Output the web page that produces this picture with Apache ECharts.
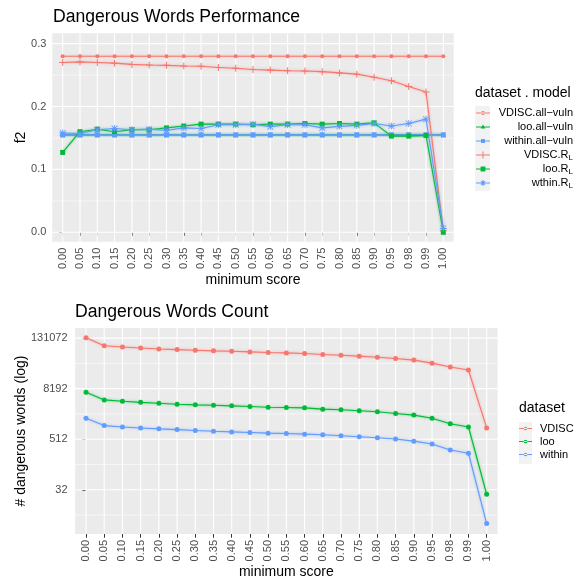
<!DOCTYPE html>
<html><head><meta charset="utf-8">
<script src="https://cdn.jsdelivr.net/npm/echarts@6/dist/echarts.min.js"></script>
<style>html,body{margin:0;padding:0;background:#fff}#c{width:576px;height:580px}</style>
</head><body><div id="c"></div>
<script>
const categories = ['0.00','0.05','0.10','0.15','0.20','0.25','0.30','0.35','0.40','0.45','0.50','0.55','0.60','0.65','0.70','0.75','0.80','0.85','0.90','0.95','0.98','0.99','1.00'];
const f2Ticks = [0, 0.1, 0.2, 0.3];
const f2MinorTicks = [0.05, 0.15, 0.25];
const countTicks = [32, 512, 8192, 131072];
const countMinorTicks = [8, 128, 2048, 32768];

// Top chart: f2
const f2VdiscAllVuln = [0.28,0.28,0.28,0.28,0.28,0.28,0.28,0.28,0.28,0.28,0.28,0.28,0.28,0.28,0.28,0.28,0.28,0.28,0.28,0.28,0.28,0.28,0.28];
const f2LooAllVuln = [0.155,0.155,0.155,0.155,0.155,0.155,0.155,0.155,0.155,0.155,0.155,0.155,0.155,0.155,0.155,0.155,0.155,0.155,0.155,0.155,0.155,0.155,0.155];
const f2WithinAllVuln = [0.155,0.155,0.155,0.155,0.155,0.155,0.155,0.155,0.155,0.155,0.155,0.155,0.155,0.155,0.155,0.155,0.155,0.155,0.155,0.155,0.155,0.155,0.155];
const f2VdiscRL = [0.270,0.271,0.270,0.269,0.267,0.266,0.2655,0.2645,0.264,0.262,0.261,0.259,0.258,0.257,0.2565,0.2555,0.2535,0.2515,0.2465,0.241,0.232,0.223,0.003];
const f2LooRL = [0.127,0.160,0.164,0.160,0.163,0.163,0.166,0.169,0.172,0.172,0.172,0.171,0.172,0.172,0.173,0.172,0.173,0.172,0.174,0.153,0.153,0.154,0.0];
const f2WithinRL = [0.158,0.157,0.163,0.165,0.163,0.164,0.162,0.166,0.165,0.171,0.171,0.172,0.168,0.171,0.171,0.166,0.1685,0.170,0.173,0.169,0.173,0.180,0.006];

// Bottom chart: counts
const countVdisc = [133900,86500,80700,76300,72200,69800,67400,65100,63800,61600,59300,58300,56300,53200,51400,48700,46000,42900,39200,33200,26800,22800,950];
const countLoo = [6700,4420,4100,3870,3690,3490,3370,3300,3190,3080,2960,2920,2860,2660,2570,2440,2300,2100,1920,1610,1200,1000,25];
const countWithin = [1610,1080,1000,950,904,867,826,792,765,739,714,699,676,652,617,584,553,516,461,393,284,237,5];

const RED = '#F8766D', GREEN = '#00BA38', BLUE = '#619CFF';
const FONT = 'Liberation Sans, Arial, sans-serif';
const tickIdx = categories.map((c, i) => i);
const pts = arr => arr.map((v, i) => [i, v]);

const SYM_PLUS = 'path://M4.3,0H5.7V10H4.3Z M0,4.3H10V5.7H0Z';
const SYM_AST = 'path://M4.4,0H5.6V10H4.4Z M0,4.4H10V5.6H0Z M1.2,0.4L9.6,8.8L8.8,9.6L0.4,1.2Z M8.8,0.4L9.6,1.2L1.2,9.6L0.4,8.8Z';

const LBOX = 'M7,0L7,0Z M7,14L7,14Z M0,6.5H14V7.5H0Z ';
const icons = {
  circle: 'path://' + LBOX + 'M5,7A2,2 0 1,0 9,7A2,2 0 1,0 5,7Z',
  tri: 'path://' + LBOX + 'M7,4.6L9.3,8.6L4.7,8.6Z',
  rect: 'path://' + LBOX + 'M5,5H9V9H5Z',
  plus: 'path://' + LBOX + 'M6.5,3.5H7.5V10.5H6.5Z M3.5,6.5H10.5V7.5H3.5Z',
  sq: 'path://' + LBOX + 'M4.6,4.6H9.4V9.4H4.6Z',
  ast: 'path://' + LBOX + 'M6.5,4H7.5V10H6.5Z M4,6.5H10V7.5H4Z M4.7,5.4L5.4,4.7L9.3,8.6L8.6,9.3Z M8.6,4.7L9.3,5.4L5.4,9.3L4.7,8.6Z'
};

const axisLabelStyle = {color: '#4d4d4d', fontSize: 11, fontFamily: FONT};
const nameStyle = {color: '#000', fontSize: 14, fontFamily: FONT};

function xAxis(gi) {
  return {
    type: 'value', gridIndex: gi, min: -0.6, max: 22.6,
    axisLine: {show: false},
    axisTick: {show: true, customValues: tickIdx, length: 3.7, lineStyle: {color: '#333', width: 1}},
    axisLabel: Object.assign({customValues: tickIdx, formatter: v => categories[Math.round(v)], rotate: 90, margin: 6}, axisLabelStyle),
    splitLine: {show: false},
    name: 'minimum score', nameLocation: 'middle', nameGap: 31, nameMoveOverlap: false, nameTextStyle: nameStyle
  };
}

function line(name, data, color, symbol, size, xi, yi) {
  return {
    type: 'line', name: name, xAxisIndex: xi, yAxisIndex: yi, data: pts(data),
    symbol: symbol, symbolSize: size, showSymbol: true, clip: false, z: 3,
    itemStyle: {color: color},
    lineStyle: {color: color, width: 1.1, shadowColor: color + 'aa', shadowBlur: 2.5},
    emphasis: {disabled: true}, animation: false
  };
}

// panel gridlines, positioned through the axes' own scales
function gridLines(xi, yi, yMajor, yMinor, yAnchor) {
  const data = [];
  yMinor.forEach(v => data.push([0, v, 0]));
  yMajor.forEach(v => data.push([0, v, 1]));
  tickIdx.forEach(v => data.push([v, yAnchor, 2]));
  return {
    type: 'custom', xAxisIndex: xi, yAxisIndex: yi, z: 1, silent: true, clip: false, animation: false,
    data: data, encode: {x: 0, y: 1},
    renderItem: function (params, api) {
      const cs = params.coordSys;
      const kind = api.value(2);
      const p = api.coord([api.value(0), api.value(1)]);
      let shape;
      if (kind === 2) shape = {x1: p[0], y1: cs.y, x2: p[0], y2: cs.y + cs.height};
      else shape = {x1: cs.x, y1: p[1], x2: cs.x + cs.width, y2: p[1]};
      return {type: 'line', shape: shape, style: {stroke: '#fff', lineWidth: kind === 0 ? 0.55 : 1.1}};
    }
  };
}

const topNames = ['VDISC.all-vuln', 'loo.all-vuln', 'within.all-vuln', 'VDISC.R_L', 'loo.R_L', 'wthin.R_L'];

const option = {
  animation: false,
  backgroundColor: '#fff',
  title: [
    {text: 'Dangerous Words Performance', left: 53, top: 8, padding: 0, textStyle: {fontSize: 17.6, fontWeight: 'normal', color: '#000', fontFamily: FONT}},
    {text: 'Dangerous Words Count', left: 75, top: 303, padding: 0, textStyle: {fontSize: 17.6, fontWeight: 'normal', color: '#000', fontFamily: FONT}},
    {text: 'dataset . model', left: 475, top: 86, padding: 0, textStyle: {fontSize: 14, fontWeight: 'normal', color: '#000', fontFamily: FONT}},
    {text: 'dataset', left: 519, top: 401, padding: 0, textStyle: {fontSize: 14, fontWeight: 'normal', color: '#000', fontFamily: FONT}}
  ],
  graphic: [
    {type: 'rect', z: -1, shape: {x: 475, y: 106, width: 15, height: 85}, style: {fill: '#f2f2f2'}},
    {type: 'rect', z: -1, shape: {x: 519, y: 422, width: 13, height: 42}, style: {fill: '#f2f2f2'}}
  ],
  grid: [
    {left: 52.3, top: 33.3, width: 401.4, height: 208.4, show: true, backgroundColor: '#ebebeb', borderWidth: 0, containLabel: false},
    {left: 75.1, top: 328, width: 422.5, height: 209, show: true, backgroundColor: '#ebebeb', borderWidth: 0, containLabel: false}
  ],
  xAxis: [xAxis(0), xAxis(1)],
  yAxis: [
    {type: 'value', gridIndex: 0, min: -0.015, max: 0.3165,
     axisLine: {show: false},
     axisTick: {show: true, customValues: f2Ticks, length: 3.7, lineStyle: {color: '#333', width: 1}},
     axisLabel: Object.assign({customValues: f2Ticks, formatter: v => v.toFixed(1), margin: 6}, axisLabelStyle),
     splitLine: {show: false},
     name: 'f2', nameLocation: 'middle', nameRotate: 90, nameGap: 24, nameMoveOverlap: false, nameTextStyle: nameStyle},
    {type: 'log', logBase: 2, gridIndex: 1, min: Math.pow(2, 1.5), max: Math.pow(2, 17.8),
     axisLine: {show: false},
     axisTick: {show: true, customValues: countTicks, length: 3.7, lineStyle: {color: '#333', width: 1}},
     axisLabel: Object.assign({customValues: countTicks, formatter: v => String(Math.round(v)), margin: 7.5}, axisLabelStyle),
     splitLine: {show: false},
     name: '# dangerous words (log)', nameLocation: 'middle', nameRotate: 90, nameGap: 47, nameMoveOverlap: false, nameTextStyle: nameStyle}
  ],
  legend: [
    {orient: 'vertical', left: 476, top: 106, itemWidth: 14, itemHeight: 14, itemGap: 0, padding: 0,
     selectedMode: false,
     data: [
       {name: topNames[0], icon: icons.circle}, {name: topNames[1], icon: icons.tri}, {name: topNames[2], icon: icons.rect},
       {name: topNames[3], icon: icons.plus}, {name: topNames[4], icon: icons.sq}, {name: topNames[5], icon: icons.ast}
     ],
     formatter: function (name) {
       const m = name.match(/^(.*)\.R_L$/);
       if (m) return '{t|' + m[1] + '.R}{s|L}';
       return '{t|' + name.replace('-', '\u2212') + '}';
     },
     textStyle: {width: 78, fontSize: 11, color: '#000', fontFamily: FONT,
       rich: {t: {fontSize: 11, align: 'right', lineHeight: 14, color: '#000', fontFamily: FONT},
              s: {fontSize: 8, align: 'right', lineHeight: 8, verticalAlign: 'bottom', color: '#000', fontFamily: FONT}}}},
    {orient: 'vertical', left: 519, top: 422, itemWidth: 13, itemHeight: 14, itemGap: 0, padding: 0,
     selectedMode: false,
     data: [{name: 'VDISC', icon: icons.circle}, {name: 'loo', icon: icons.circle}, {name: 'within', icon: icons.circle}],
     textStyle: {fontSize: 11, color: '#000', fontFamily: FONT, padding: [0, 0, 0, 3]}}
  ],
  series: [
    gridLines(0, 0, f2Ticks, f2MinorTicks, 0),
    gridLines(1, 1, countTicks, countMinorTicks, 32),
    line(topNames[0], f2VdiscAllVuln, RED, 'circle', 4, 0, 0),
    line(topNames[1], f2LooAllVuln, GREEN, 'triangle', 5, 0, 0),
    line(topNames[2], f2WithinAllVuln, BLUE, 'rect', 5, 0, 0),
    line(topNames[3], f2VdiscRL, RED, SYM_PLUS, 7, 0, 0),
    line(topNames[4], f2LooRL, GREEN, 'rect', 5, 0, 0),
    line(topNames[5], f2WithinRL, BLUE, SYM_AST, 7, 0, 0),
    line('VDISC', countVdisc, RED, 'circle', 5, 1, 1),
    line('loo', countLoo, GREEN, 'circle', 5, 1, 1),
    line('within', countWithin, BLUE, 'circle', 5, 1, 1)
  ]
};

const chart = echarts.init(document.getElementById('c'), null, {renderer: 'canvas'});
chart.setOption(option);
</script>
</body></html>
